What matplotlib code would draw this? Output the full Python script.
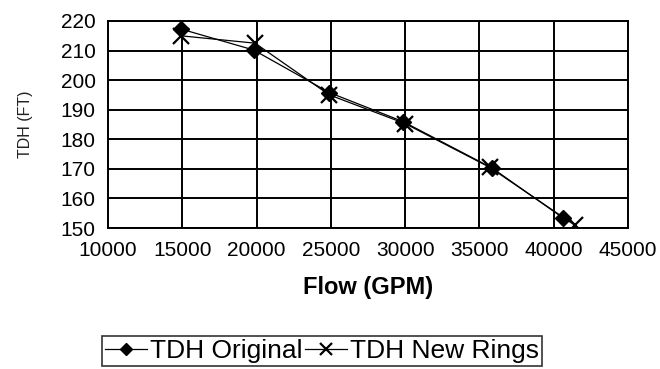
import matplotlib.pyplot as plt
import numpy as np

plt.rcParams['font.family'] = ['Liberation Sans', 'DejaVu Sans']

#--- data
flow_orig = [14900, 19800, 24900, 29850, 35850, 40600]
tdh_orig = [217.3, 210.2, 195.8, 186.0, 170.3, 153.5]

flow_new = [14900, 19900, 24900, 30000, 35700, 41400]
tdh_new = [215.0, 212.5, 195.0, 185.3, 170.5, 151.0]

xticks = np.arange(10000, 45001, 5000)
yticks = np.arange(150, 221, 10)

fig = plt.figure(figsize=(6.6, 3.69), dpi=100)
ax = fig.add_axes([108/660, 1 - 228/369, 520/660, 207/369])

ax.plot(flow_orig, tdh_orig, color='black', lw=0.9, marker='D', ms=8,
        mfc='black', mec='black', label='TDH Original')
ax.plot(flow_new, tdh_new, color='black', lw=0.9, marker='x', ms=11,
        mew=1.6, label='TDH New Rings')

ax.set_xlim(10000, 45000)
ax.set_ylim(150, 220)
ax.set_xticks(xticks)
ax.set_yticks(yticks)
ax.grid(True, color='black', lw=1.4)
ax.set_axisbelow(True)
for s in ax.spines.values():
    s.set_color('black')
    s.set_linewidth(1.4)
ax.tick_params(length=0, labelsize=15)
ax.tick_params(axis='x', pad=9)
ax.tick_params(axis='y', pad=9)

ax.set_xlabel('Flow (GPM)', fontsize=17, fontweight='bold', labelpad=12)
ax.set_ylabel('TDH (FT)', fontsize=11.5, labelpad=20, color='#222222')

leg = fig.legend(loc='center', bbox_to_anchor=(322/660, 1 - 351/369), ncol=2,
                 fontsize=19, frameon=True, fancybox=False, edgecolor='black',
                 handlelength=1.6, handletextpad=0.1, columnspacing=0.1,
                 borderpad=0.1, borderaxespad=0, markerscale=0.8)
leg.get_frame().set_linewidth(1.2)

fig.savefig('out.png', dpi=100)
